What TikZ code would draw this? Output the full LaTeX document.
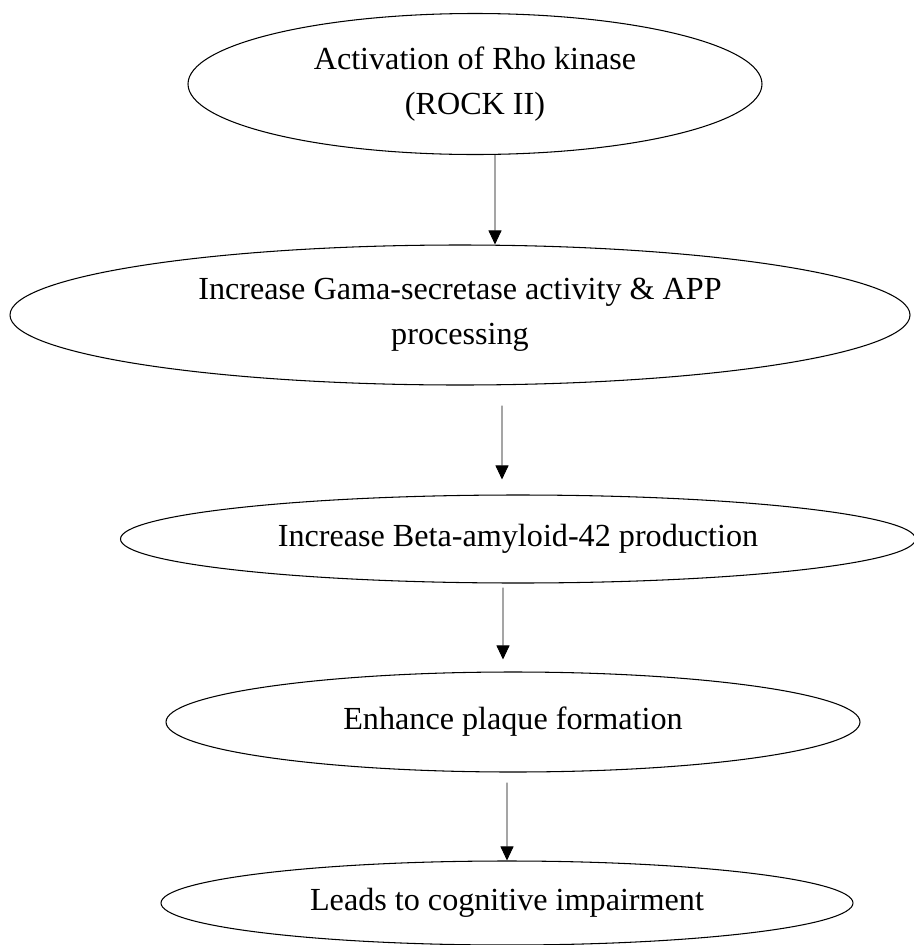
\documentclass[tikz,border=0pt]{standalone}
\usepackage{fontspec}
\setmainfont{Liberation Serif}
\usetikzlibrary{shapes.geometric,arrows.meta}
\begin{document}
\begin{tikzpicture}[line width=0.6pt,
    stage/.style={ellipse, draw, inner sep=0pt, align=center,
      font=\fontsize{18.3}{25.5}\selectfont},
    arrow/.style={-{Triangle[width=2.6mm,length=2.8mm]}, line width=0.5pt}]
        \useasboundingbox (0,0) rectangle (18.26,-18.9);
        \node [stage, minimum width=11.48cm, minimum height=2.82cm] (rock) at (9.5, -1.68) {Activation of Rho kinase\\(ROCK II)};
        \node [stage, minimum width=18.0cm, minimum height=2.8cm] (gama) at (9.2, -6.3) {Increase Gama-secretase activity \& APP\\processing};
        \node [stage, minimum width=15.9cm, minimum height=1.76cm] (beta) at (10.36, -10.78) {Increase Beta-amyloid-42 production};
        \node [stage, minimum width=13.88cm, minimum height=2.0cm] (plaque) at (10.26, -14.44) {Enhance plaque formation};
        \node [stage, minimum width=13.84cm, minimum height=1.68cm] (cogn) at (10.14, -18.06) {Leads to cognitive impairment};
        \draw [arrow] ([xshift=4mm]rock.south) -- ([xshift=7mm]gama.north);
        \draw [arrow, shorten <=4mm, shorten >=3mm] ([xshift=8.4mm]gama.south) -- ([xshift=-3.2mm]beta.north);
        \draw [arrow, shorten <=0.8mm, shorten >=2.4mm] ([xshift=-3mm]beta.south) -- ([xshift=-2mm]plaque.north);
        \draw [arrow, shorten <=2mm] ([xshift=-1.2mm]plaque.south) -- (cogn.north);
      \end{tikzpicture}
\end{document}
